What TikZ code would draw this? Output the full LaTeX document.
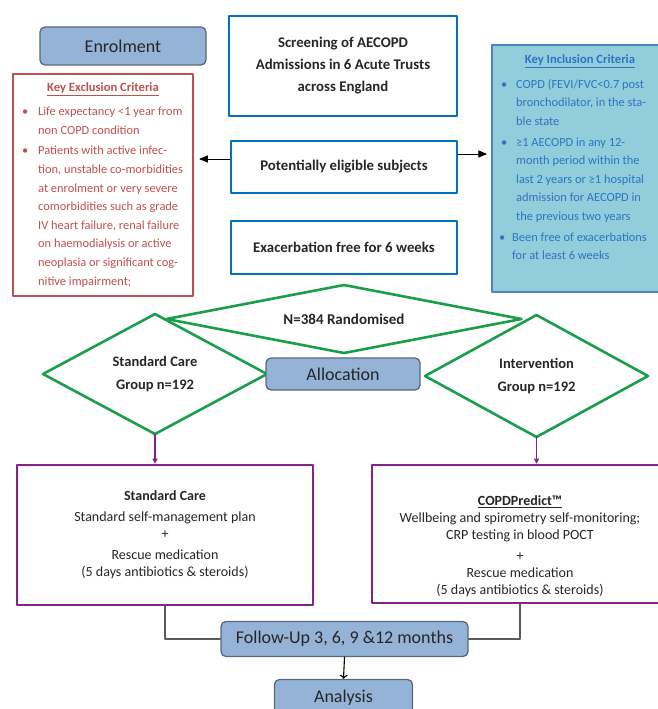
\documentclass[tikz,border=0pt]{standalone}
\usepackage{fontspec}
\setmainfont{Carlito}
\usepackage{tikz}
\usetikzlibrary{arrows, arrows.meta, shapes}
\usetikzlibrary{calc}
\usetikzlibrary{positioning}

\definecolor{exred}{HTML}{C0504D}
\definecolor{trustblue}{HTML}{0070C0}
\definecolor{incfill}{HTML}{92CDDC}
\definecolor{incline}{HTML}{4F81BD}
\definecolor{inctext}{HTML}{2E74C0}
\definecolor{randgreen}{HTML}{1A9E4A}
\definecolor{armpurple}{HTML}{84218A}
\definecolor{stagefill}{HTML}{95B3D7}
\definecolor{stageline}{HTML}{56687A}
\definecolor{bodytext}{HTML}{262626}

\begin{document}
\begin{tikzpicture}[line cap=round,line join=round,>=triangle 45,x=1pt,y=-1pt]
  \tikzset{
  % rounded blue labels (enrolment, allocation, follow-up, analysis)
  stage/.style={rectangle, rounded corners=5pt, draw=stageline, fill=stagefill,
    line width=1.3pt, inner sep=0pt, text=bodytext, font=\fontsize{18}{20}\selectfont},
  % blue framed boxes of the screening column
  screen/.style={rectangle, draw=trustblue, line width=2.8pt, inner sep=0pt,
    align=center, text=bodytext, font=\bfseries\fontsize{14.8}{22}\selectfont},
  % green diamonds
  armdia/.style={diamond, draw=randgreen, line width=2.6pt, inner sep=0pt,
    outer sep=0pt, align=center, text=bodytext,
    font=\bfseries\fontsize{14.5}{22.5}\selectfont},
  % purple boxes of the two arms
  armbox/.style={rectangle, draw=armpurple, line width=2.6pt, inner sep=0pt,
    align=center, text=bodytext, font=\fontsize{14}{17}\selectfont},
  % criteria lists
  crit/.style={inner sep=0pt, anchor=north west, align=left,
    font=\fontsize{12.4}{18.6}\selectfont},
  armarrow/.style={-{Triangle[length=5pt,width=5pt]}, draw=armpurple, line width=1.2pt},
  followline/.style={draw=black!65, line width=1.2pt},
}

\useasboundingbox (0,0) rectangle (658,709);
\clip (0,0) rectangle (658,709);

%% enrolment
\node[stage, minimum width=166, minimum height=38] (Enrol) at (123,46) {Enrolment};

\node[screen, minimum width=228, minimum height=100] (Screen) at (343,66)
  {Screening of AECOPD\\Admissions in 6 Acute Trusts\\across England};
\node[screen, minimum width=226, minimum height=52] (Elig) at (344,167) {Potentially eligible subjects};
\node[screen, minimum width=226, minimum height=53] (ExFree) at (344,247.5) {Exacerbation free for 6 weeks};

% exclusion criteria
\node[rectangle, draw=exred, line width=2.4pt, fill=white, minimum width=180, minimum height=222] (Excl) at (103,185) {};
\node[text=exred, font=\bfseries\fontsize{12.6}{14}\selectfont] (ExclHead) at (103,89) {\underline{Key Exclusion Criteria}};
\node[crit, text=exred] (ExclList) at (38,107) {%
  \llap{\textbullet\hspace{10pt}}Life expectancy <1 year from\\
  non COPD condition\\[2pt]
  \llap{\textbullet\hspace{10pt}}Patients with active infec-\\
  tion, unstable co-morbidities\\
  at enrolment or very severe\\
  comorbidities such as grade\\
  IV heart failure, renal failure\\
  on haemodialysis or active\\
  neoplasia or significant cog-\\
  nitive impairment;};

% inclusion criteria
\node[rectangle, draw=incline, line width=2pt, fill=incfill, minimum width=176, minimum height=247] (Incl) at (580,168.5) {};
\node[text=inctext, font=\bfseries\fontsize{12.6}{14}\selectfont] (InclHead) at (580,61) {\underline{Key Inclusion Criteria}};
\node[crit, text=inctext] (InclList) at (516,79) {%
  \llap{\textbullet\hspace{9pt}}COPD (FEVI/FVC<0.7 post\\
  bronchodilator, in the sta-\\
  ble state\\[2pt]
  \llap{\textbullet\hspace{9pt}}≥1 AECOPD in any 12-\\
  month period within the\\
  last 2 years or ≥1 hospital\\
  admission for AECOPD in\\
  the previous two years\\[2pt]
  \hspace*{-4pt}\llap{\textbullet\hspace{7pt}}Been free of exacerbations\\
  \hspace*{-4pt}for at least 6 weeks};

\draw[->, line width=1pt, shorten >=5pt] ([yshift=8pt]Elig.west) -- ([yshift=8pt]Elig.west -| Excl.east);
\draw[->, line width=1pt, shorten >=4pt] ([yshift=13pt]Elig.east) -- ([yshift=13pt]Elig.east -| Incl.west);

%% randomisation
\node[armdia, aspect=5, minimum width=355, minimum height=68, font=\bfseries\fontsize{15}{18}\selectfont] (Rand) at (344,319) {N=384 Randomised};
\node[armdia, minimum width=224, minimum height=120] (StdGrp) at (155,374) {Standard Care\\Group n=192};
\node[armdia, minimum width=223, minimum height=122] (IntGrp) at (536.5,376) {Intervention\\Group n=192};
\node[stage, minimum width=154, minimum height=32] (Alloc) at (343,374) {Allocation};

%% the two arms
\node[armbox, minimum width=296, minimum height=140] (StdCare) at (165,535)
  {\textbf{Standard Care}\\[4pt]
   Standard self-management plan\\ +\\[4pt]
   Rescue medication\\ (5 days antibiotics \& steroids)};
\node[armbox, minimum width=296, minimum height=138] (COPDP) at (520,534) {};
\node[align=center, text=bodytext, font=\fontsize{14}{17}\selectfont] (COPDText) at (520,546)
  {\textbf{\underline{COPDPredict™}}\\
   Wellbeing and spirometry self-monitoring;\\
   CRP testing in blood POCT\\[4pt]
   +\\
   Rescue medication\\ (5 days antibiotics \& steroids)};

\draw[armarrow] (StdGrp.south) -- (StdGrp.south |- StdCare.north);
\draw[armarrow] (IntGrp.south) -- (IntGrp.south |- COPDP.north);

%% follow-up
\node[stage, minimum width=247, minimum height=35] (Follow) at (344.5,639) {Follow-Up 3, 6, 9 \&12 months};
\node[stage, minimum width=138, minimum height=36] (Analysis) at (343.5,697.5) {Analysis};

\draw[followline] (StdCare.south) |- (Follow.west);
\draw[followline] (COPDP.south) |- (Follow.east);
\draw[-{To[length=4pt,width=8pt]}, line width=1.1pt] (Follow.south) -- (Analysis.north);
\end{tikzpicture}
\end{document}
